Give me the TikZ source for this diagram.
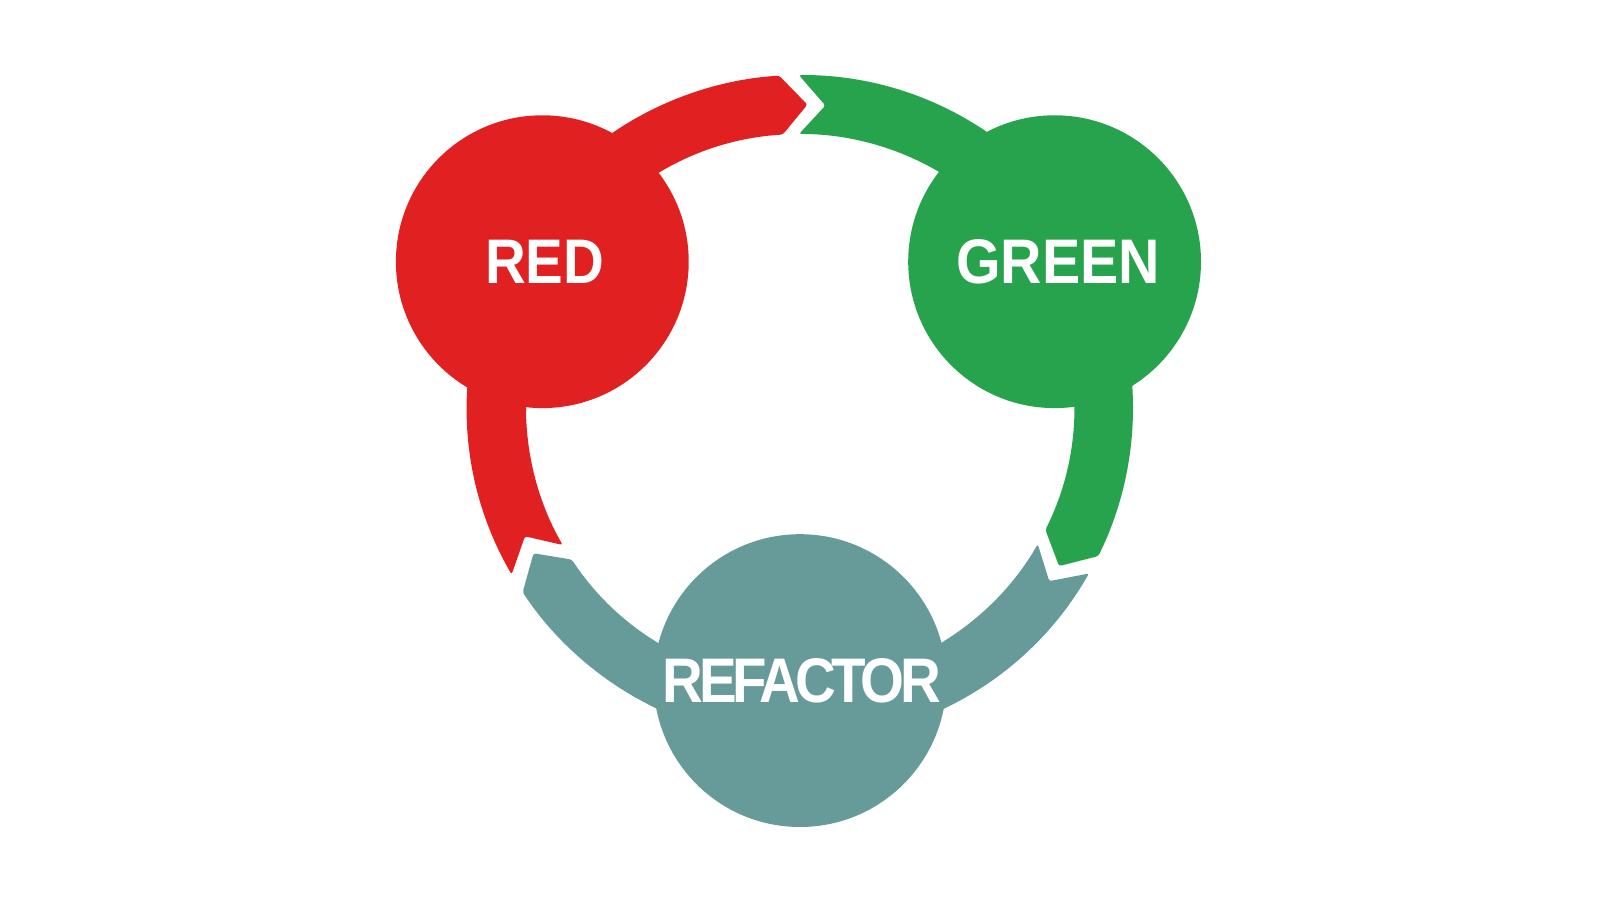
\documentclass[tikz,border=0pt]{standalone}
\usepackage{fontspec}
\setmainfont{Liberation Sans}
\usetikzlibrary{calc}
\definecolor{cred}{RGB}{225,33,33}
\definecolor{cgreen}{RGB}{38,163,76}
\definecolor{cteal}{RGB}{103,155,154}
\newcommand\myseg[3]{%
  \fill[#1, rounded corners=2.5pt]
    ($(c)+(#2:333pt)$) arc[start angle=#2, end angle=#3, radius=333pt]
    -- ($(c)+({#3-5}:303.5pt)$)
    -- ($(c)+(#3:274pt)$) arc[start angle=#3, end angle=#2, radius=274pt]
    -- ($(c)+({#2-5}:303.5pt)$) -- cycle;}
\begin{document}
\begin{tikzpicture}[x=1pt,y=1pt,
  stage/.style={circle, inner sep=0pt, minimum size=292.8pt, text=white,
    font=\fontsize{63}{66}\selectfont\bfseries}]
\useasboundingbox (0,0) rectangle (1600,900);
\fill[white] (0,0) rectangle (1600,900);
\coordinate (c) at (800,492);
\myseg{cred}{210}{93.6}
\myseg{cgreen}{90.2}{-26.4}
\myseg{cteal}{-29.8}{-146.4}
\node[stage, fill=cred] (red) at (542.3,638.3) {\hspace*{5pt}\scalebox{0.896}[1]{RED}};
\node[stage, fill=cgreen] (green) at (1054.6,638.3) {\hspace*{7pt}\scalebox{0.91}[1]{GREEN}};
\node[stage, fill=cteal] (refactor) at (800,219.4) {\hspace*{4pt}\scalebox{0.896}[1]{\addfontfeature{LetterSpace=-7.9}REFACTOR}};
\end{tikzpicture}
\end{document}
